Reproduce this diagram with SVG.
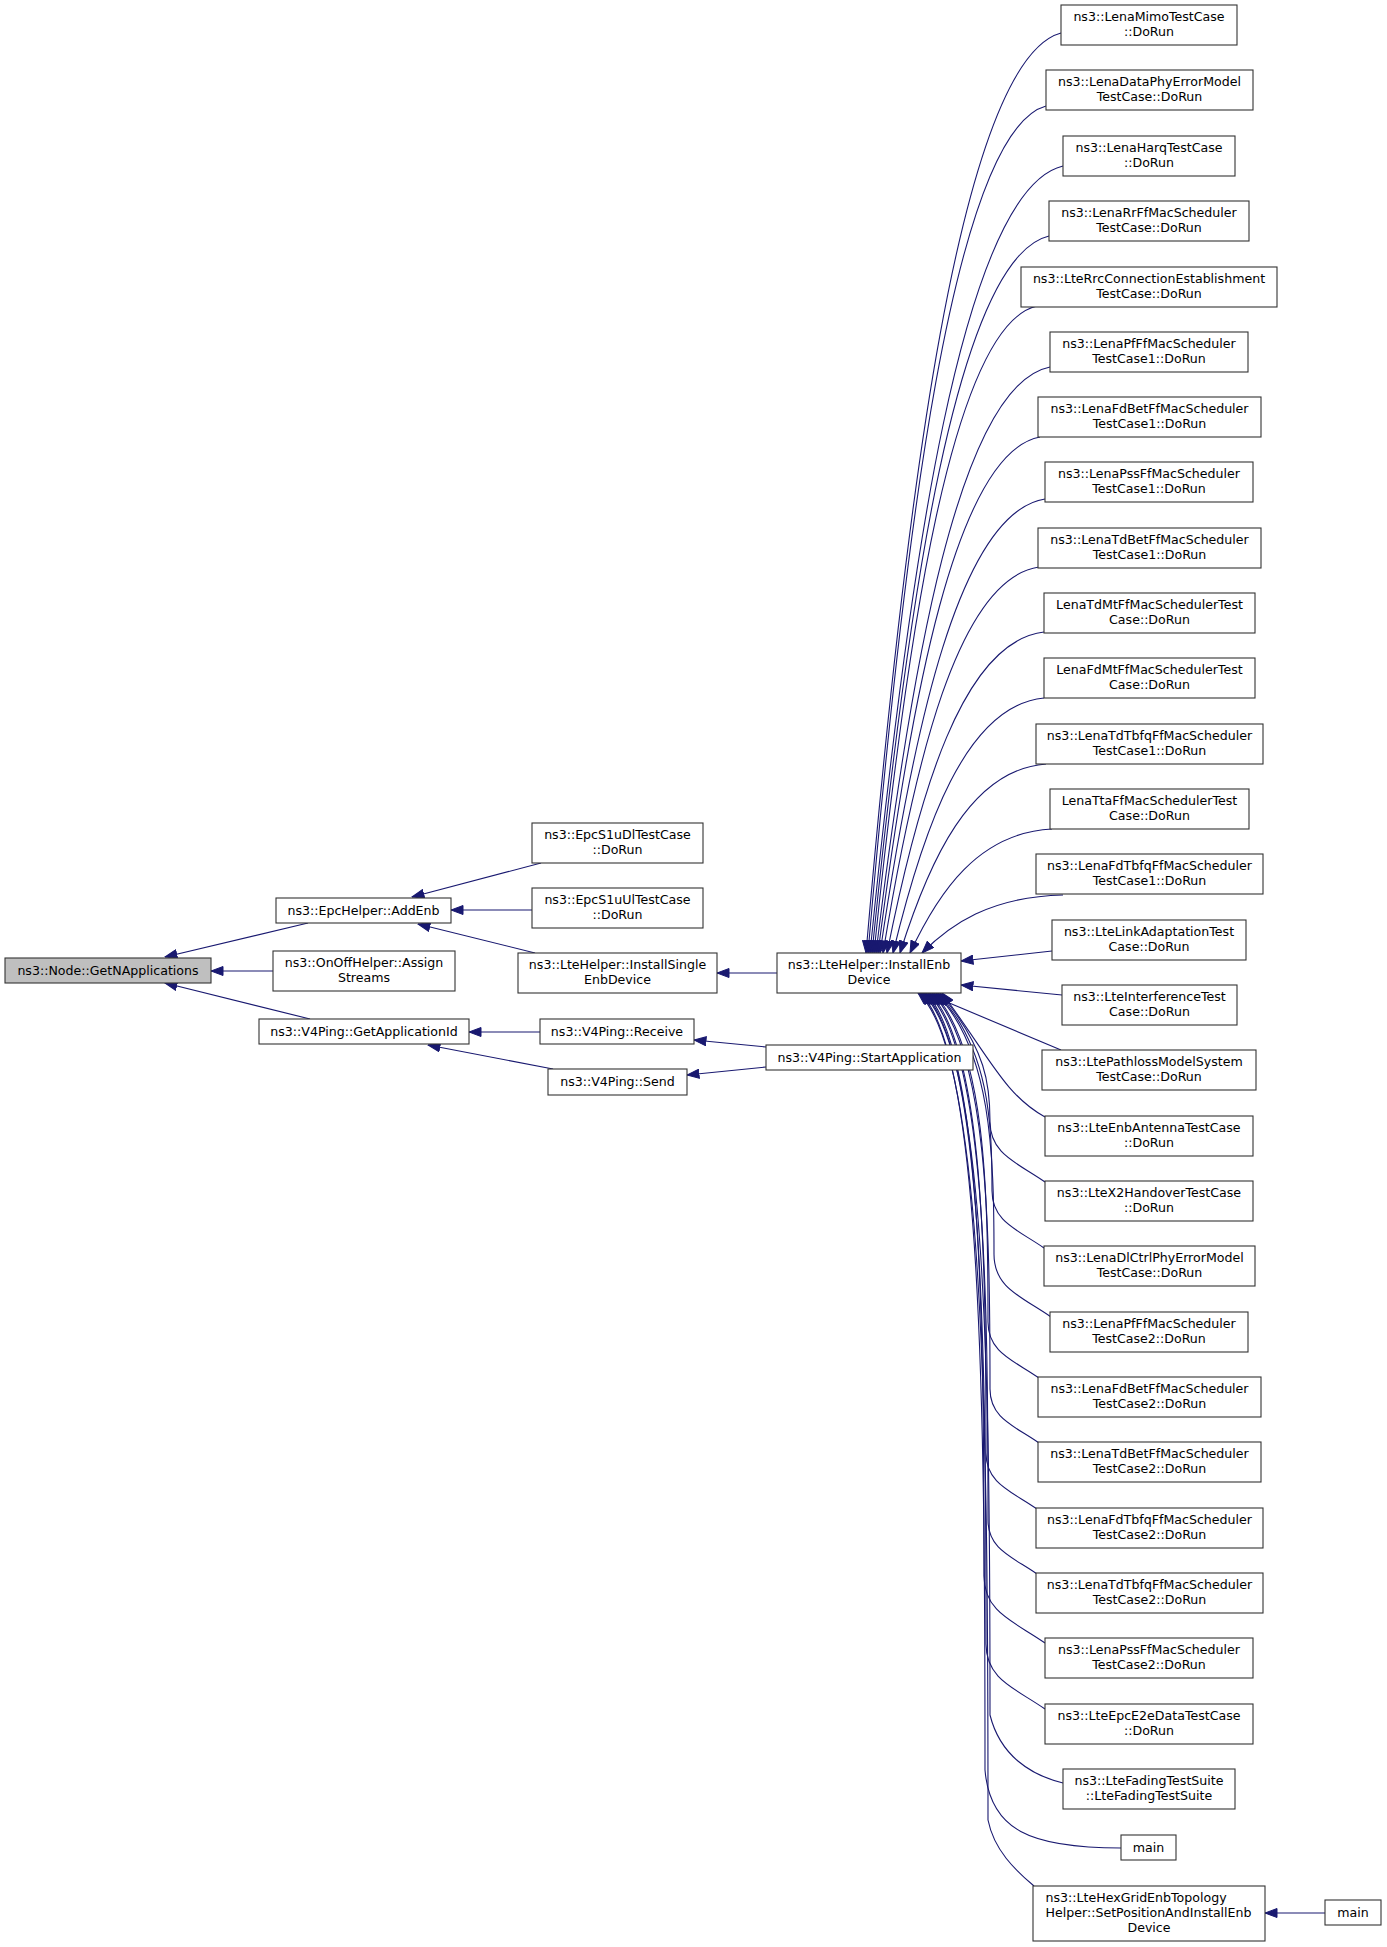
<svg xmlns="http://www.w3.org/2000/svg" width="1387" height="1947" viewBox="0 0 1387 1947">
<style>
.n rect{fill:#fff;stroke:#333;stroke-width:1.1}
.n text{font-family:"DejaVu Sans","Liberation Sans",sans-serif;font-size:12.6px;fill:#000;text-anchor:middle}
#e path{fill:none;stroke:#191970;stroke-width:1.1;marker-end:url(#a)}
</style>
<defs>
<marker id="a" markerUnits="userSpaceOnUse" markerWidth="13" markerHeight="10" viewBox="0 0 13 10" refX="12.5" refY="5" orient="auto"><path d="M0.5,0.5 L12.5,5 L0.5,9.5 Z" fill="#191970" stroke="#191970" stroke-width="1"/></marker>
</defs>
<rect width="1387" height="1947" fill="#fff"/>
<g id="e">
<path d="M308,923 L165,957"/>
<path d="M273,971 L211,971"/>
<path d="M310,1019 L165,983"/>
<path d="M541,863 L412,897"/>
<path d="M532,910 L451,910"/>
<path d="M535,953 L418,924"/>
<path d="M777,973 L717,973"/>
<path d="M540,1032 L469,1032"/>
<path d="M553,1069 L428,1045"/>
<path d="M766,1047 L694,1040"/>
<path d="M766,1067 L687,1075"/>
<path d="M1325,1913 L1265,1913"/>
<path d="M1061,33 C959.6,60.6 905,502.2 866,953"/>
<path d="M1046,106 C953.4,131.4 903.6,538 868,953"/>
<path d="M1063,166 C962.6,189.6 908.6,567.4 870,953"/>
<path d="M1049,236 C957,257.5 907.4,601.7 872,953"/>
<path d="M1037,306 C952.2,325.4 906.6,636 874,953"/>
<path d="M1050,367 C959.5,384.6 910.8,665.9 876,953"/>
<path d="M1040,437 C955.8,452.5 910.4,700.2 878,953"/>
<path d="M1045,499 C959.2,512.6 913,730.5 880,953"/>
<path d="M1039,567 C957.9,578.6 914.2,763.9 883,953"/>
<path d="M1044,632 C962.4,641.6 918.4,795.7 887,953"/>
<path d="M1044,698 C965.5,705.7 923.2,828 893,953"/>
<path d="M1046,764 C970.1,769.7 929.2,860.4 900,953"/>
<path d="M1052,829 C978.2,832.7 938.4,892.2 910,953"/>
<path d="M1063,895 C989.7,896.7 950.2,924.6 922,953"/>
<path d="M1052,951 L961,961"/>
<path d="M1062,995 L961,985"/>
<path d="M1061,1050 L928,994"/>
<path d="M1045,1117 C1005,1095 990,1058 942,993"/>
<path d="M1045,1182 C1017.5,1162.7 990,1154.5 990,1121.5 C990,1085.8 987,1050 940,993"/>
<path d="M1044,1248 C1018,1229.8 992,1222 992,1190.8 C992,1120.4 989,1050 938,993"/>
<path d="M1051,1317 C1022.5,1297 994,1288.5 994,1254.3 C994,1152.2 991,1050 936,993"/>
<path d="M1039,1378 C1013.5,1360.2 988,1352.5 988,1321.9 C988,1186 985,1050 934,993"/>
<path d="M1039,1443 C1014.5,1425.9 990,1418.5 990,1389.1 C990,1219.6 987,1050 932,993"/>
<path d="M1037,1509 C1011.5,1491.2 986,1483.5 986,1452.9 C986,1251.5 983,1050 930,993"/>
<path d="M1037,1574 C1012.5,1556.9 988,1549.5 988,1520.1 C988,1285 985,1050 928,993"/>
<path d="M1045,1643 C1014.5,1621.7 984,1612.5 984,1575.9 C984,1313 981,1050 926,993"/>
<path d="M1045,1709 C1015.5,1688.4 986,1679.5 986,1644.1 C986,1347 983,1050 924,993"/>
<path d="M1063,1783 C1030,1775 1000,1755 990,1715 C990,1382 987,1050 922,993"/>
<path d="M1121,1848 C1030,1848 990,1830 985,1770 C985,1410 982,1050 920,993"/>
<path d="M1034,1886 C1015,1870 994,1850 988,1820 C988,1435 985,1050 918,993"/>
</g>
<g id="node-getnapplications" class="n"><rect x="5" y="958" width="206" height="25" style="fill:#bfbfbf"/><text x="108" y="974.5">ns3::Node::GetNApplications</text></g>
<g id="node-addenb" class="n"><rect x="276" y="898" width="175" height="25"/><text x="363.5" y="914.5">ns3::EpcHelper::AddEnb</text></g>
<g id="node-onoff" class="n"><rect x="273" y="951" width="182" height="40"/><text x="364" y="967">ns3::OnOffHelper::Assign</text><text x="364" y="982">Streams</text></g>
<g id="node-getappid" class="n"><rect x="259" y="1019" width="210" height="25"/><text x="364" y="1035.5">ns3::V4Ping::GetApplicationId</text></g>
<g id="node-epcs1udl" class="n"><rect x="532" y="823" width="171" height="40"/><text x="617.5" y="839">ns3::EpcS1uDlTestCase</text><text x="617.5" y="854">::DoRun</text></g>
<g id="node-epcs1uul" class="n"><rect x="532" y="888" width="171" height="40"/><text x="617.5" y="904">ns3::EpcS1uUlTestCase</text><text x="617.5" y="919">::DoRun</text></g>
<g id="node-installsingle" class="n"><rect x="518" y="953" width="199" height="40"/><text x="617.5" y="969">ns3::LteHelper::InstallSingle</text><text x="617.5" y="984">EnbDevice</text></g>
<g id="node-installenb" class="n"><rect x="777" y="953" width="184" height="40"/><text x="869" y="969">ns3::LteHelper::InstallEnb</text><text x="869" y="984">Device</text></g>
<g id="node-receive" class="n"><rect x="540" y="1019" width="154" height="25"/><text x="617" y="1035.5">ns3::V4Ping::Receive</text></g>
<g id="node-send" class="n"><rect x="548" y="1069" width="139" height="26"/><text x="617.5" y="1086">ns3::V4Ping::Send</text></g>
<g id="node-startapp" class="n"><rect x="766" y="1045" width="207" height="25"/><text x="869.5" y="1061.5">ns3::V4Ping::StartApplication</text></g>
<g id="node-r0" class="n"><rect x="1061" y="5" width="176" height="40"/><text x="1149" y="21">ns3::LenaMimoTestCase</text><text x="1149" y="36">::DoRun</text></g>
<g id="node-r1" class="n"><rect x="1046" y="70" width="207" height="40"/><text x="1149.5" y="86">ns3::LenaDataPhyErrorModel</text><text x="1149.5" y="101">TestCase::DoRun</text></g>
<g id="node-r2" class="n"><rect x="1063" y="136" width="172" height="40"/><text x="1149" y="152">ns3::LenaHarqTestCase</text><text x="1149" y="167">::DoRun</text></g>
<g id="node-r3" class="n"><rect x="1049" y="201" width="200" height="40"/><text x="1149" y="217">ns3::LenaRrFfMacScheduler</text><text x="1149" y="232">TestCase::DoRun</text></g>
<g id="node-r4" class="n"><rect x="1021" y="267" width="256" height="40"/><text x="1149" y="283">ns3::LteRrcConnectionEstablishment</text><text x="1149" y="298">TestCase::DoRun</text></g>
<g id="node-r5" class="n"><rect x="1050" y="332" width="198" height="40"/><text x="1149" y="348">ns3::LenaPfFfMacScheduler</text><text x="1149" y="363">TestCase1::DoRun</text></g>
<g id="node-r6" class="n"><rect x="1038" y="397" width="223" height="40"/><text x="1149.5" y="413">ns3::LenaFdBetFfMacScheduler</text><text x="1149.5" y="428">TestCase1::DoRun</text></g>
<g id="node-r7" class="n"><rect x="1045" y="462" width="208" height="40"/><text x="1149" y="478">ns3::LenaPssFfMacScheduler</text><text x="1149" y="493">TestCase1::DoRun</text></g>
<g id="node-r8" class="n"><rect x="1038" y="528" width="223" height="40"/><text x="1149.5" y="544">ns3::LenaTdBetFfMacScheduler</text><text x="1149.5" y="559">TestCase1::DoRun</text></g>
<g id="node-r9" class="n"><rect x="1044" y="593" width="211" height="40"/><text x="1149.5" y="609">LenaTdMtFfMacSchedulerTest</text><text x="1149.5" y="624">Case::DoRun</text></g>
<g id="node-r10" class="n"><rect x="1044" y="658" width="211" height="40"/><text x="1149.5" y="674">LenaFdMtFfMacSchedulerTest</text><text x="1149.5" y="689">Case::DoRun</text></g>
<g id="node-r11" class="n"><rect x="1036" y="724" width="227" height="40"/><text x="1149.5" y="740">ns3::LenaTdTbfqFfMacScheduler</text><text x="1149.5" y="755">TestCase1::DoRun</text></g>
<g id="node-r12" class="n"><rect x="1050" y="789" width="199" height="40"/><text x="1149.5" y="805">LenaTtaFfMacSchedulerTest</text><text x="1149.5" y="820">Case::DoRun</text></g>
<g id="node-r13" class="n"><rect x="1036" y="854" width="227" height="40"/><text x="1149.5" y="870">ns3::LenaFdTbfqFfMacScheduler</text><text x="1149.5" y="885">TestCase1::DoRun</text></g>
<g id="node-r14" class="n"><rect x="1052" y="920" width="194" height="40"/><text x="1149" y="936">ns3::LteLinkAdaptationTest</text><text x="1149" y="951">Case::DoRun</text></g>
<g id="node-r15" class="n"><rect x="1062" y="985" width="175" height="40"/><text x="1149.5" y="1001">ns3::LteInterferenceTest</text><text x="1149.5" y="1016">Case::DoRun</text></g>
<g id="node-r16" class="n"><rect x="1042" y="1050" width="214" height="40"/><text x="1149" y="1066">ns3::LtePathlossModelSystem</text><text x="1149" y="1081">TestCase::DoRun</text></g>
<g id="node-r17" class="n"><rect x="1045" y="1116" width="208" height="40"/><text x="1149" y="1132">ns3::LteEnbAntennaTestCase</text><text x="1149" y="1147">::DoRun</text></g>
<g id="node-r18" class="n"><rect x="1045" y="1181" width="208" height="40"/><text x="1149" y="1197">ns3::LteX2HandoverTestCase</text><text x="1149" y="1212">::DoRun</text></g>
<g id="node-r19" class="n"><rect x="1044" y="1246" width="211" height="40"/><text x="1149.5" y="1262">ns3::LenaDlCtrlPhyErrorModel</text><text x="1149.5" y="1277">TestCase::DoRun</text></g>
<g id="node-r20" class="n"><rect x="1050" y="1312" width="198" height="40"/><text x="1149" y="1328">ns3::LenaPfFfMacScheduler</text><text x="1149" y="1343">TestCase2::DoRun</text></g>
<g id="node-r21" class="n"><rect x="1038" y="1377" width="223" height="40"/><text x="1149.5" y="1393">ns3::LenaFdBetFfMacScheduler</text><text x="1149.5" y="1408">TestCase2::DoRun</text></g>
<g id="node-r22" class="n"><rect x="1038" y="1442" width="223" height="40"/><text x="1149.5" y="1458">ns3::LenaTdBetFfMacScheduler</text><text x="1149.5" y="1473">TestCase2::DoRun</text></g>
<g id="node-r23" class="n"><rect x="1036" y="1508" width="227" height="40"/><text x="1149.5" y="1524">ns3::LenaFdTbfqFfMacScheduler</text><text x="1149.5" y="1539">TestCase2::DoRun</text></g>
<g id="node-r24" class="n"><rect x="1036" y="1573" width="227" height="40"/><text x="1149.5" y="1589">ns3::LenaTdTbfqFfMacScheduler</text><text x="1149.5" y="1604">TestCase2::DoRun</text></g>
<g id="node-r25" class="n"><rect x="1045" y="1638" width="208" height="40"/><text x="1149" y="1654">ns3::LenaPssFfMacScheduler</text><text x="1149" y="1669">TestCase2::DoRun</text></g>
<g id="node-r26" class="n"><rect x="1045" y="1704" width="208" height="40"/><text x="1149" y="1720">ns3::LteEpcE2eDataTestCase</text><text x="1149" y="1735">::DoRun</text></g>
<g id="node-r27" class="n"><rect x="1063" y="1769" width="172" height="40"/><text x="1149" y="1785">ns3::LteFadingTestSuite</text><text x="1149" y="1800">::LteFadingTestSuite</text></g>
<g id="node-r28" class="n"><rect x="1121" y="1835" width="55" height="25"/><text x="1148.5" y="1851.5">main</text></g>
<g id="node-r29" class="n"><rect x="1033" y="1886" width="232" height="55"/><text x="1045.5" y="1902" style="text-anchor:start">ns3::LteHexGridEnbTopology</text><text x="1045.5" y="1917" style="text-anchor:start">Helper::SetPositionAndInstallEnb</text><text x="1149" y="1932">Device</text></g>
<g id="node-main2" class="n"><rect x="1325" y="1900" width="56" height="25"/><text x="1353" y="1916.5">main</text></g>
</svg>
